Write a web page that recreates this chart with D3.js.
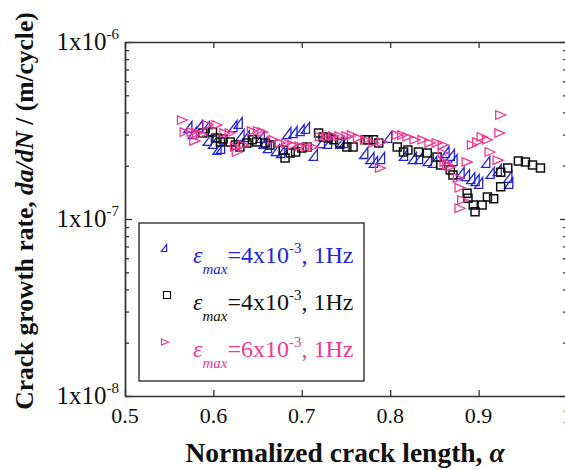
<!DOCTYPE html>
<html>
<head>
<meta charset="utf-8">
<script src="https://cdn.jsdelivr.net/npm/d3@7"></script>
<style>
  html, body { margin: 0; padding: 0; background: #fff; }
  svg { display: block; }
  text { font-family: "Liberation Serif", "Times New Roman", serif; }
</style>
</head>
<body>
<svg id="chart" width="565" height="470"></svg>
<script>
// ---------- data ----------
const xTicks = [0.5, 0.6, 0.7, 0.8, 0.9, 1.0];
const xTickLabels = ["0.5", "0.6", "0.7", "0.8", "0.9", "1"];
const yMajorTicks = [1e-8, 1e-7, 1e-6];
const yTickExponents = ["-8", "-7", "-6"];

const legendLabels = ["=4x10", "=4x10", "=6x10"];
const legendExps = ["-3", "-3", "-3"];

// series 1: blue triangles (eps_max = 4x10^-3, 1 Hz)
const blueLength = [0.571,0.576,0.583,0.591,0.593,0.599,0.604,0.608,0.622,0.628,0.630,0.636,0.653,0.656,0.661,0.670,0.676,0.683,0.690,0.698,0.704,0.713,0.721,0.729,0.743,0.747,0.770,0.777,0.781,0.789,0.797,0.815,0.825,0.832,0.842,0.848,0.862,0.868,0.871,0.879,0.885,0.891,0.896,0.900,0.908,0.913,0.921,0.933,0.934];
const blueRate = [3.31e-7,3.06e-7,3.35e-7,3.31e-7,2.80e-7,2.69e-7,2.49e-7,2.52e-7,3.35e-7,3.49e-7,2.98e-7,2.94e-7,2.91e-7,2.69e-7,2.55e-7,2.45e-7,2.39e-7,3.06e-7,3.10e-7,3.18e-7,3.27e-7,2.30e-7,2.72e-7,2.69e-7,2.69e-7,2.72e-7,2.36e-7,2.21e-7,2.10e-7,2.21e-7,2.91e-7,2.30e-7,2.21e-7,2.21e-7,2.15e-7,2.10e-7,2.39e-7,2.30e-7,2.15e-7,1.82e-7,1.77e-7,1.70e-7,1.66e-7,1.60e-7,2.10e-7,1.82e-7,1.89e-7,1.73e-7,1.60e-7];

// series 2: black squares (eps_max = 4x10^-3, 1 Hz)
const blackLength = [0.588,0.599,0.604,0.608,0.611,0.619,0.625,0.630,0.638,0.644,0.649,0.659,0.664,0.679,0.681,0.687,0.693,0.700,0.706,0.719,0.724,0.730,0.736,0.743,0.751,0.758,0.772,0.775,0.781,0.787,0.808,0.815,0.820,0.832,0.842,0.853,0.857,0.868,0.871,0.887,0.888,0.894,0.896,0.904,0.910,0.917,0.925,0.925,0.933,0.945,0.953,0.961,0.970];
const blackRate = [3.06e-7,3.10e-7,2.87e-7,2.72e-7,2.83e-7,2.72e-7,2.62e-7,2.55e-7,2.69e-7,2.80e-7,2.72e-7,2.69e-7,2.62e-7,2.45e-7,2.21e-7,2.36e-7,2.39e-7,2.52e-7,2.55e-7,3.06e-7,2.91e-7,2.87e-7,2.80e-7,2.69e-7,2.55e-7,2.55e-7,2.80e-7,2.80e-7,2.80e-7,2.69e-7,2.55e-7,2.39e-7,2.45e-7,2.39e-7,2.36e-7,2.24e-7,2.02e-7,1.89e-7,1.77e-7,1.40e-7,1.31e-7,1.20e-7,1.10e-7,1.20e-7,1.33e-7,1.30e-7,1.52e-7,1.84e-7,1.94e-7,2.13e-7,2.10e-7,2.02e-7,1.94e-7];

// series 3: pink right triangles (eps_max = 6x10^-3, 1 Hz)
const pinkLength = [0.565,0.568,0.576,0.582,0.579,0.587,0.594,0.604,0.613,0.619,0.625,0.627,0.634,0.644,0.651,0.656,0.668,0.676,0.683,0.690,0.698,0.706,0.713,0.721,0.729,0.736,0.743,0.751,0.757,0.764,0.772,0.781,0.791,0.789,0.808,0.814,0.820,0.828,0.837,0.845,0.853,0.860,0.860,0.862,0.865,0.868,0.877,0.879,0.882,0.879,0.887,0.893,0.899,0.904,0.910,0.913,0.922,0.925,0.924];
const pinkRate = [3.62e-7,3.10e-7,3.10e-7,3.06e-7,2.76e-7,3.02e-7,3.40e-7,3.40e-7,3.06e-7,3.06e-7,2.55e-7,2.39e-7,2.62e-7,3.14e-7,3.14e-7,3.10e-7,2.80e-7,2.69e-7,2.69e-7,2.62e-7,2.58e-7,2.55e-7,2.55e-7,2.91e-7,2.91e-7,2.94e-7,2.94e-7,2.94e-7,2.98e-7,2.87e-7,2.80e-7,2.69e-7,2.72e-7,1.94e-7,2.98e-7,2.98e-7,2.91e-7,2.80e-7,2.80e-7,2.69e-7,2.69e-7,2.62e-7,2.36e-7,2.10e-7,2.02e-7,1.97e-7,1.70e-7,1.50e-7,1.28e-7,1.15e-7,2.10e-7,2.62e-7,2.72e-7,2.91e-7,2.80e-7,2.39e-7,2.15e-7,3.87e-7,3.06e-7];

const BLUE = "#2323dc";
const PINK = "#f03a92";
const BLACK = "#111";

// ---------- layout ----------
const svg = d3.select("#chart");
const L = 125, R = 567, T = 42, B = 396;
const x = d3.scaleLinear().domain([0.5, 1.0]).range([L, R]);
const y = d3.scaleLog().domain([1e-8, 1e-6]).range([B, T]);

const yMinor = [];
for (let e = -8; e < -6; e++) for (let k = 2; k <= 9; k++) yMinor.push(k * Math.pow(10, e));

const axisStyle = g => {
  g.selectAll("path.domain").attr("stroke", "#333").attr("stroke-width", 1.4);
  g.selectAll(".tick line").attr("stroke", "#333").attr("stroke-width", 1.3);
  g.selectAll("text").remove();
};

svg.append("g").attr("transform", `translate(0,${B})`)
  .call(d3.axisBottom(x).tickValues(xTicks).tickSizeInner(-6).tickSizeOuter(0)).call(axisStyle);
svg.append("g").attr("transform", `translate(0,${T})`)
  .call(d3.axisTop(x).tickValues(xTicks).tickSizeInner(-6).tickSizeOuter(0)).call(axisStyle);
svg.append("g").attr("transform", `translate(${L},0)`)
  .call(d3.axisLeft(y).tickValues(yMajorTicks).tickSizeInner(-7).tickSizeOuter(0)).call(axisStyle);
svg.append("g").attr("transform", `translate(${L},0)`)
  .call(d3.axisLeft(y).tickValues(yMinor).tickSizeInner(-4).tickSizeOuter(0)).call(axisStyle);
svg.append("g").attr("transform", `translate(${R},0)`)
  .call(d3.axisRight(y).tickValues(yMajorTicks).tickSizeInner(-7).tickSizeOuter(0)).call(axisStyle);
svg.append("g").attr("transform", `translate(${R},0)`)
  .call(d3.axisRight(y).tickValues(yMinor).tickSizeInner(-4).tickSizeOuter(0)).call(axisStyle);

// x tick labels
svg.append("g").selectAll("text").data(xTicks).join("text")
  .attr("x", d => x(d)).attr("y", B + 27)
  .attr("text-anchor", "middle").attr("font-size", 22).attr("fill", "#111")
  .text((d, i) => xTickLabels[i]);

// y tick labels
const yl = svg.append("g").selectAll("text").data(yMajorTicks).join("text")
  .attr("x", 119).attr("y", d => y(d) + 8)
  .attr("text-anchor", "end").attr("font-size", 25).attr("fill", "#111");
yl.append("tspan").text("1x10");
yl.append("tspan").attr("font-size", 15).attr("dy", -11).text((d, i) => yTickExponents[i]);

// ---------- markers ----------
function triBlue(s) { const w = s * 0.75, h = s; return `M${w/2},${-h/2}L${w/2},${h/2}L${-w/2},${h/2}Z`; }
function triPink(s) { const w = s, h = s * 0.85; return `M${w/2},0L${-w/2},${-h/2}L${-w/2},${h/2}Z`; }
function sq(s) { return `M${-s/2},${-s/2}h${s}v${s}h${-s}Z`; }

const plot = svg.append("g");
const blackData = blackLength.map((a, i) => ({ a, r: blackRate[i] }));
const blueData = blueLength.map((a, i) => ({ a, r: blueRate[i] }));
const pinkData = pinkLength.map((a, i) => ({ a, r: pinkRate[i] }));

plot.selectAll("path.bl").data(blueData).join("path").attr("class", "bl")
  .attr("transform", d => `translate(${x(d.a)},${y(d.r)})`)
  .attr("d", triBlue(11)).attr("fill", "none").attr("stroke", BLUE).attr("stroke-width", 1.3);
plot.selectAll("path.bk").data(blackData).join("path").attr("class", "bk")
  .attr("transform", d => `translate(${x(d.a)},${y(d.r)})`)
  .attr("d", sq(8)).attr("fill", "none").attr("stroke", BLACK).attr("stroke-width", 1.5);
plot.selectAll("path.pk").data(pinkData).join("path").attr("class", "pk")
  .attr("transform", d => `translate(${x(d.a)},${y(d.r)})`)
  .attr("d", triPink(10)).attr("fill", "none").attr("stroke", PINK).attr("stroke-width", 1.3);

// ---------- legend ----------
const lg = svg.append("g");
lg.append("rect").attr("x", 139).attr("y", 223).attr("width", 225).attr("height", 158)
  .attr("fill", "#fff").attr("stroke", "#333").attr("stroke-width", 1.4);
const legColors = [BLUE, BLACK, PINK];
const legMarkers = [triBlue(7), sq(7), triPink(7)];
const legMarkerX = [164, 167, 165];
legendLabels.forEach((lab, i) => {
  const by = 263 + i * 47;
  lg.append("path").attr("transform", `translate(${legMarkerX[i]},${by - 15})`)
    .attr("d", legMarkers[i]).attr("fill", "none").attr("stroke", legColors[i]).attr("stroke-width", 1.2);
  const t = lg.append("text").attr("x", 193).attr("y", by).attr("font-size", 24).attr("fill", legColors[i]);
  t.append("tspan").attr("font-style", "italic").text("ε");
  t.append("tspan").attr("font-style", "italic").attr("font-size", 15).attr("dy", 11).text("max");
  t.append("tspan").attr("dy", -11).text(lab);
  t.append("tspan").attr("font-size", 15).attr("dy", -10).text(legendExps[i]);
  t.append("tspan").attr("dy", 10).text(", 1Hz");
});

// ---------- axis titles ----------
const xt = svg.append("text").attr("x", 345).attr("y", 462).attr("text-anchor", "middle")
  .attr("font-size", 27.5).attr("font-weight", "bold").attr("fill", "#111");
xt.append("tspan").text("Normalized crack length, ");
xt.append("tspan").attr("font-style", "italic").text("α");

const ytl = svg.append("text").attr("transform", "translate(33,211) rotate(-90)")
  .attr("text-anchor", "middle").attr("font-size", 25.5).attr("font-weight", "bold").attr("fill", "#111");
ytl.append("tspan").text("Crack growth rate, ");
ytl.append("tspan").attr("font-style", "italic").text("da/dN");
ytl.append("tspan").text(" / (m/cycle)");
</script>
</body>
</html>
